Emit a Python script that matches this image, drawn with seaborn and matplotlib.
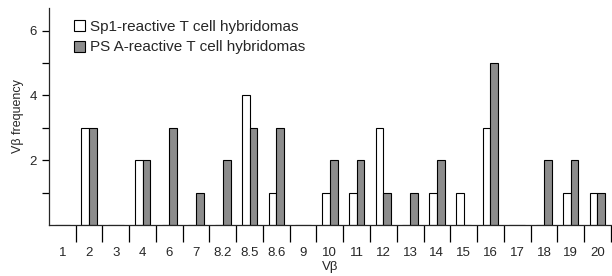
import numpy as np
import pandas as pd
import matplotlib
matplotlib.use("Agg")
import matplotlib.pyplot as plt
from matplotlib.ticker import FixedLocator
import seaborn as sns

# V-beta families along the x axis
vbeta = ["1", "2", "3", "4", "6", "7", "8.2", "8.5", "8.6", "9", "10",
         "11", "12", "13", "14", "15", "16", "17", "18", "19", "20"]

# frequencies
sp1_freq = [0, 3, 0, 2, 0, 0, 0, 4, 1, 0, 1, 1, 3, 0, 1, 1, 3, 0, 0, 1, 1]
psa_freq = [0, 3, 0, 2, 3, 1, 2, 3, 3, 0, 2, 2, 1, 1, 2, 0, 5, 0, 2, 2, 1]

series = ["Sp1-reactive T cell hybridomas", "PS A-reactive T cell hybridomas"]

df = pd.DataFrame({
    "vbeta": vbeta * 2,
    "freq": sp1_freq + psa_freq,
    "group": [series[0]] * len(vbeta) + [series[1]] * len(vbeta),
})

sns.set_style("ticks")
plt.rcParams["font.family"] = ["Liberation Sans", "DejaVu Sans"]

fig = plt.figure(figsize=(6.12, 2.76), dpi=100)
ax = fig.add_axes([0.080, 0.185, 0.918, 0.786])

sns.barplot(data=df, x="vbeta", y="freq", hue="group", order=vbeta,
            hue_order=series, palette=["white", "#8c8c8c"], width=0.58,
            gap=0, edgecolor="black", linewidth=0.8, saturation=1, ax=ax)

ax.set_xlim(-0.5, len(vbeta) - 0.5)
ax.set_ylim(0, 6.7)

# y ticks: labelled at 2,4,6 and plain ticks in between
ax.set_yticks([2, 4, 6])
ax.set_yticklabels(["2", "4", "6"], fontsize=9.5)
ax.yaxis.set_minor_locator(FixedLocator([1, 3, 5]))
ax.tick_params(axis="y", which="both", length=5, width=0.9, color="black")

# x ticks: marks at category boundaries, labels at category centres
pos = np.arange(len(vbeta))
ax.set_xticks(pos + 0.5)
ax.set_xticklabels([""] * len(vbeta))
ax.tick_params(axis="x", which="major", length=12, width=0.9, color="black")
ax.set_xticks(pos, minor=True)
ax.set_xticklabels(vbeta, minor=True, fontsize=9.5)
ax.tick_params(axis="x", which="minor", length=0, pad=16)

ax.set_xlabel("V\u03b2", fontsize=9.5, labelpad=1)
ax.set_ylabel("V\u03b2 frequency", fontsize=9, labelpad=4)

for s in ["top", "right"]:
    ax.spines[s].set_visible(False)
ax.spines["left"].set_linewidth(0.9)
ax.spines["bottom"].set_linewidth(0.9)

leg = ax.legend(loc="upper left", bbox_to_anchor=(0.02, 1.01), frameon=False,
                fontsize=11, handlelength=0.75, handleheight=0.75,
                handletextpad=0.3, labelspacing=0.45)

fig.savefig("out.png", dpi=100)
